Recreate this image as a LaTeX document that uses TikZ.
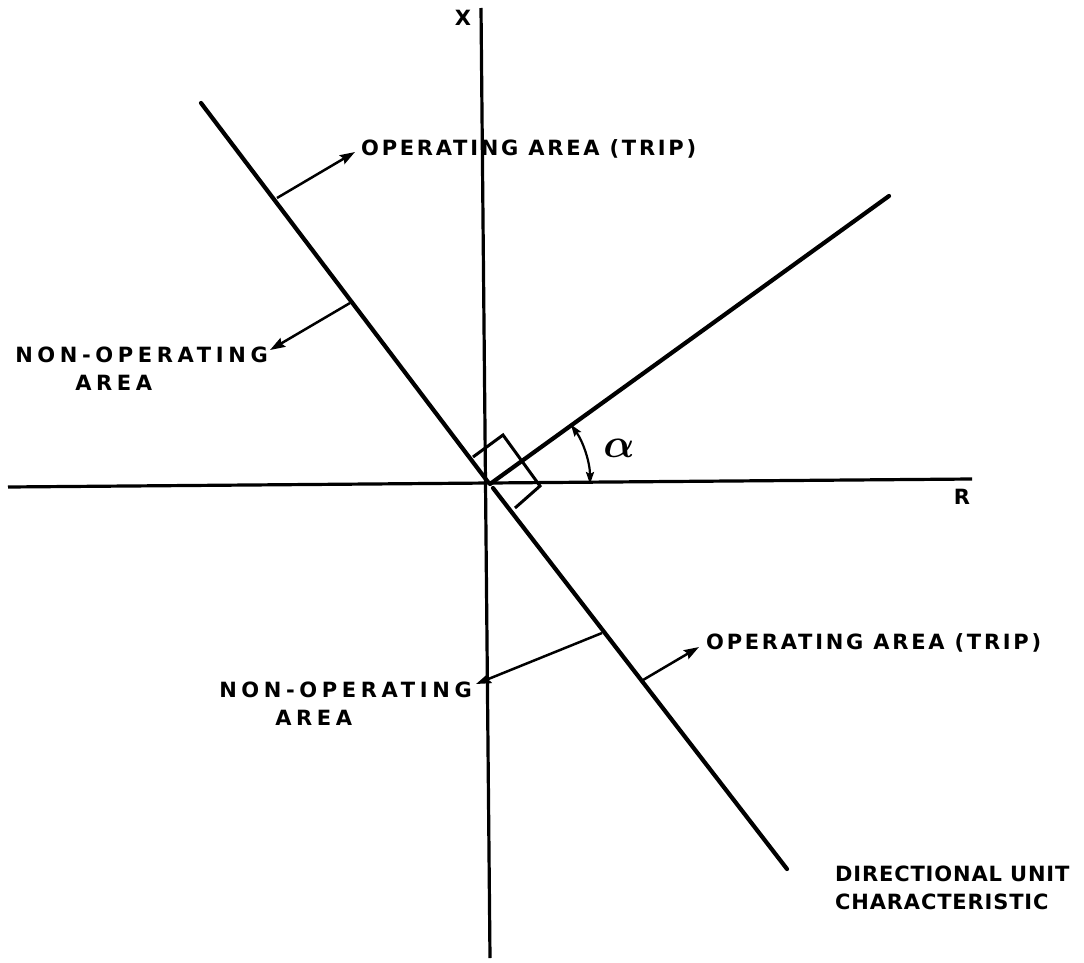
\documentclass[tikz,border=0pt]{standalone}
\usepackage{fontspec}
\usepackage{bm}
\setmainfont{DejaVu Sans}[LetterSpace=13]
\usetikzlibrary{arrows.meta}
\begin{document}
\begin{tikzpicture}[x=1pt,y=-1pt,
  axis/.style={line width=3.2pt},
  heavy/.style={line width=4.2pt, line cap=round},
  marker/.style={line width=3pt, line join=miter},
  pointer/.style={line width=2.5pt,-{Stealth[length=15pt,width=10pt,inset=2pt]}},
  anglearrow/.style={line width=2.2pt,{Stealth[length=12pt,width=8pt,inset=2pt]}-{Stealth[length=12pt,width=8pt,inset=2pt]}},
  lbl/.style={font=\bfseries\fontsize{21}{28}\selectfont, inner sep=0pt},
  widelbl/.style={font=\bfseries\fontsize{21}{28}\selectfont\addfontfeatures{LetterSpace=22}, inner sep=0pt},
  narrowlbl/.style={font=\bfseries\fontsize{21}{28}\selectfont\addfontfeatures{LetterSpace=4}, inner sep=0pt}]
\useasboundingbox (0,0) rectangle (1084,963);
% axes
\coordinate (O) at (488,484);
\coordinate (xtop) at (481,8);
\coordinate (xbot) at (490,958);
\coordinate (rleft) at (8,487);
\coordinate (rright) at (972,479);
\draw[axis] (xtop) -- (xbot);
\draw[axis] (rleft) -- (rright);
\node[lbl] (xl) at (463,18) {X};
\node[lbl] (rl) at (962,497) {R};
% directional unit characteristic
\coordinate (d1) at (201,103);
\coordinate (d2) at (488,482);
\coordinate (d3) at (493,488);
\coordinate (d4) at (787,869);
\draw[heavy] (d1) -- (d2);
\draw[heavy] (d3) -- (d4);
% line at angle alpha
\coordinate (a0) at (490,484);
\coordinate (a1) at (889,196);
\draw[heavy] (a0) -- (a1);
% right-angle marker
\coordinate (m1) at (473,457);
\coordinate (m2) at (503,435);
\coordinate (m3) at (540,486);
\coordinate (m4) at (515,508);
\draw[marker] (m1) -- (m2) -- (m3) -- (m4);
% angle alpha
\coordinate (arcstart) at (590,484);
\draw[anglearrow] (arcstart) arc[start angle=0, end angle=-35.7, radius=102];
\node[inner sep=0pt, font=\fontsize{24.88}{26}\selectfont] (alpha) at (619,448) {\scalebox{1.65}{$\bm{\alpha}$}};
% labels
\node[lbl,anchor=west] (trip1) at (361,149) {OPERATING AREA (TRIP)};
\node[lbl,anchor=west] (trip2) at (706,643) {OPERATING AREA (TRIP)};
\node[widelbl,anchor=north east,align=left] (non1) at (268,347) {NON-OPERATING\\\hspace*{60pt}AREA};
\node[widelbl,anchor=north east,align=left] (non2) at (472,682) {NON-OPERATING\\\hspace*{56pt}AREA};
\node[narrowlbl,anchor=north west,align=left] (dir) at (835,866) {DIRECTIONAL UNIT\\CHARACTERISTIC};
% pointers
\coordinate (p1s) at (277,198);
\coordinate (p1e) at (355,152);
\coordinate (p2s) at (350,303);
\coordinate (p2e) at (270,350);
\coordinate (p3s) at (602,633);
\coordinate (p3e) at (476,684);
\coordinate (p4s) at (643,680);
\coordinate (p4e) at (699,647);
\draw[pointer] (p1s) -- (p1e);
\draw[pointer] (p2s) -- (p2e);
\draw[pointer] (p3s) -- (p3e);
\draw[pointer] (p4s) -- (p4e);
\end{tikzpicture}
\end{document}
